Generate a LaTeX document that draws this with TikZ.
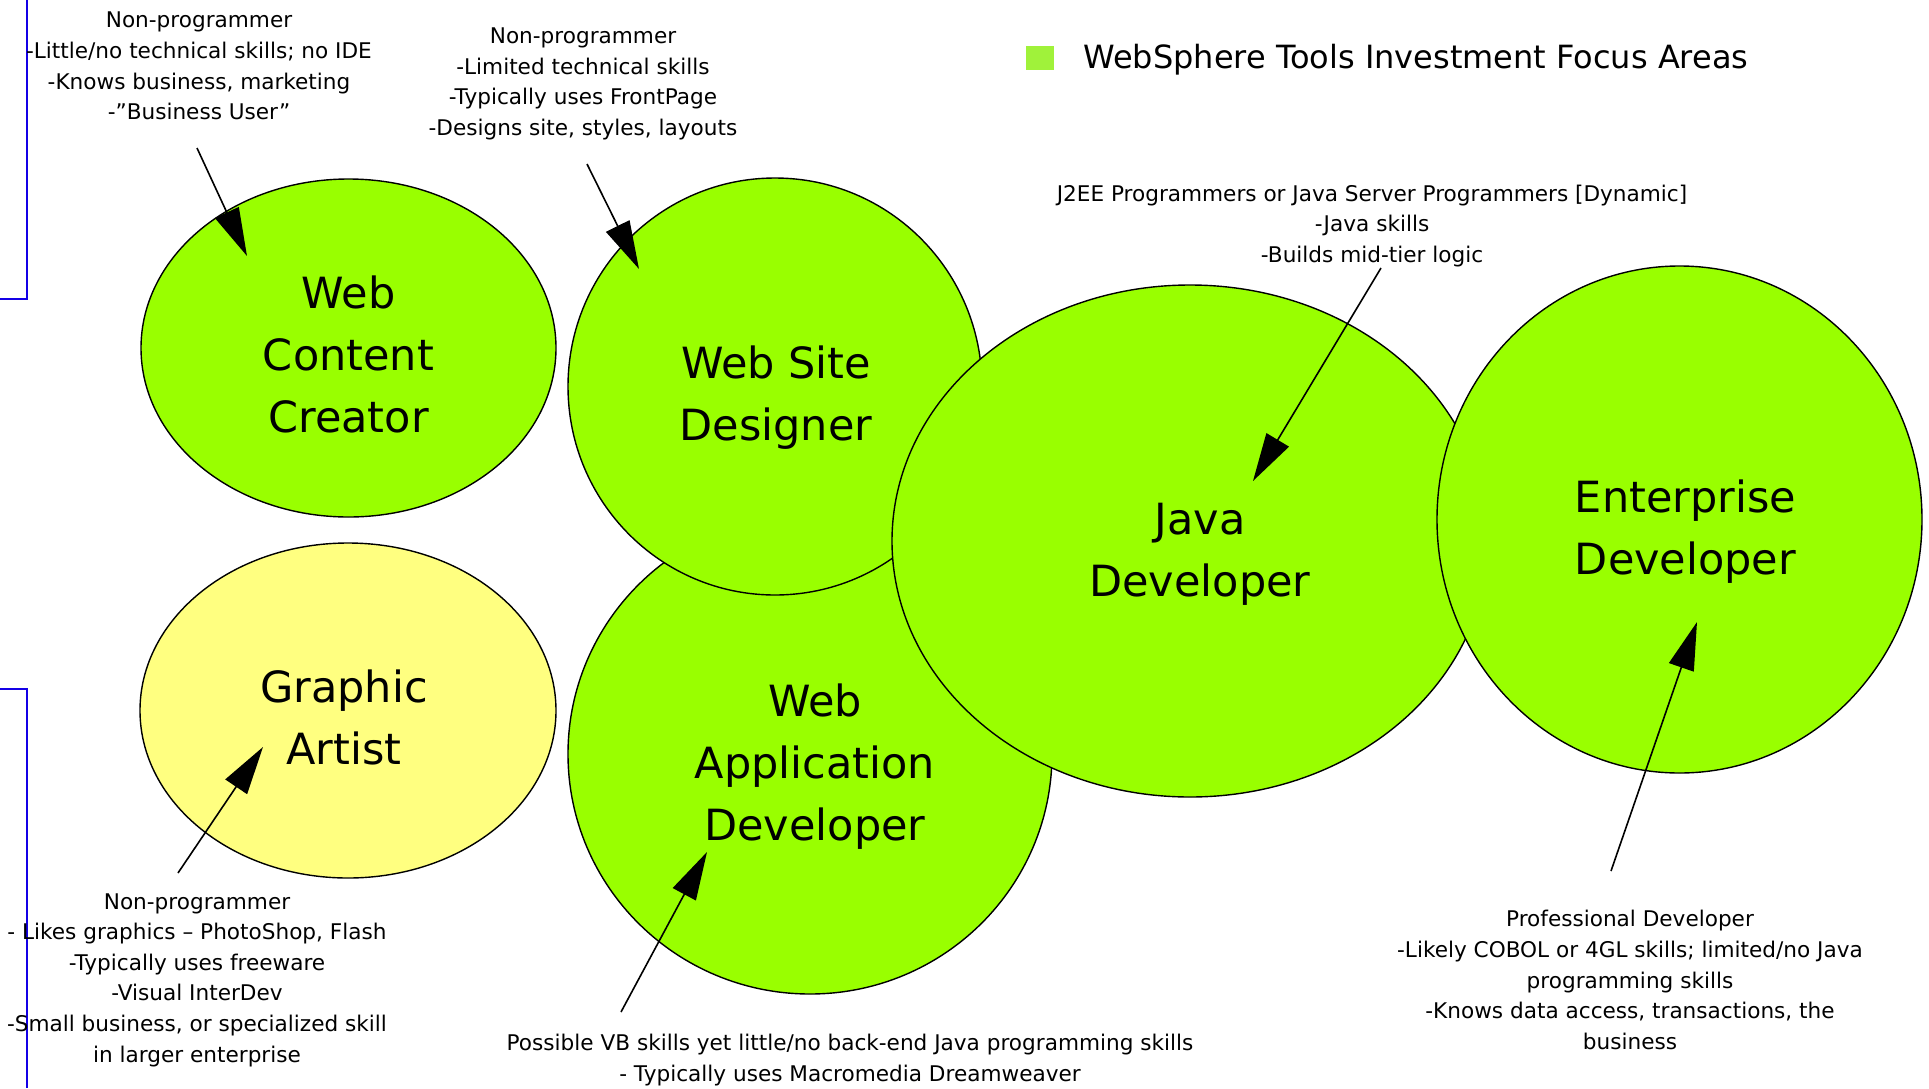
\documentclass[tikz,border=0pt]{standalone}
\usepackage{fontspec}
\setmainfont{DejaVu Sans}
\usetikzlibrary{shapes.geometric,arrows.meta}
\definecolor{bubblegreen}{RGB}{153,255,0}
\definecolor{artistyellow}{RGB}{255,255,128}
\definecolor{legendgreen}{RGB}{160,242,58}
\definecolor{frameblue}{RGB}{20,0,230}
\begin{document}
\begin{tikzpicture}[x=0.5pt,y=-0.5pt,
  bubble/.style={ellipse,draw=black,line width=0.7pt,fill=bubblegreen,inner sep=0pt},
  rolelabel/.style={align=center,inner sep=0pt,font={\fontsize{21.5pt}{31pt}\selectfont}},
  note/.style={align=center,inner sep=0pt,font={\fontsize{10.8pt}{15.3pt}\selectfont}},
  pointer/.style={line width=0.8pt,-{Triangle[length=24pt,width=13pt]}}]
\useasboundingbox (0,0) rectangle (1929,1088);
% side marks
\draw[frameblue,line width=0.85pt] (26.7,0) -- (26.7,299) -- (0,299);
\draw[frameblue,line width=0.85pt] (0,689) -- (26.7,689) -- (26.7,1088);
% legend
\node[fill=legendgreen,inner sep=0pt,minimum width=14pt,minimum height=12pt] (legendbox) at (1040,58) {};
\node[anchor=west,inner sep=0pt,font={\fontsize{16pt}{19pt}\selectfont}] (legendtext) at (1083,60) {WebSphere Tools Investment Focus Areas};
% roles
\node[bubble,minimum width=242pt,minimum height=240pt] (wad) at (810,754) {};
\node[bubble,minimum width=207pt,minimum height=208.5pt] (wsd) at (775,386.5) {};
\node[bubble,minimum width=298pt,minimum height=256pt] (javadev) at (1190,541) {};
\node[bubble,minimum width=242.5pt,minimum height=253.5pt] (entdev) at (1679.5,519.5) {};
\node[bubble,minimum width=207.5pt,minimum height=169pt] (wcc) at (348.5,348) {};
\node[bubble,fill=artistyellow,minimum width=208pt,minimum height=167.5pt] (artist) at (348,710.5) {};
\node[rolelabel] (wadlabel) at ([shift={(5,13)}]wad.center) {Web\\Application\\Developer};
\node[rolelabel] (wsdlabel) at ([shift={(1,11)}]wsd.center) {Web Site\\Designer};
\node[rolelabel] (javalabel) at ([shift={(10,13)}]javadev.center) {Java\\Developer};
\node[rolelabel] (entlabel) at ([shift={(6,12)}]entdev.center) {Enterprise\\Developer};
\node[rolelabel] (wcclabel) at ([shift={(0,6)}]wcc.center) {Web\\Content\\Creator};
\node[rolelabel] (artistlabel) at ([shift={(-4,7)}]artist.center) {Graphic\\Artist};
% notes
\node[note] (wccnote) at (199,66) {Non-programmer\\-Little/no technical skills; no IDE\\-Knows business, marketing\\-”Business User”};
\node[note] (wsdnote) at (583,84) {Non-programmer\\-Limited technical skills\\-Typically uses FrontPage\\-Designs site, styles, layouts};
\node[note] (javanote) at (1372,226) {J2EE Programmers or Java Server Programmers [Dynamic]\\-Java skills\\-Builds mid-tier logic};
\node[note] (artistnote) at (197,980) {Non-programmer\\- Likes graphics – PhotoShop, Flash\\-Typically uses freeware\\-Visual InterDev\\-Small business, or specialized skill\\in larger enterprise};
\node[note] (wadnote) at (850,1060) {Possible VB skills yet little/no back-end Java programming skills\\- Typically uses Macromedia Dreamweaver};
\node[note] (entnote) at (1630,980) {Professional Developer\\-Likely COBOL or 4GL skills; limited/no Java\\programming skills\\-Knows data access, transactions, the\\business};
% pointers
\coordinate (wcctail) at (197,148);   \coordinate (wcctip) at (247,256);
\coordinate (wsdtail) at (587,164);   \coordinate (wsdtip) at (639,269);
\coordinate (javatail) at (1381,268); \coordinate (javatip) at (1253,481);
\coordinate (artisttail) at (178,873); \coordinate (artisttip) at (263,747);
\coordinate (wadtail) at (621,1012);  \coordinate (wadtip) at (707,852);
\coordinate (enttail) at (1611,871);  \coordinate (enttip) at (1697,622);
\draw[pointer] (wcctail) -- (wcctip);
\draw[pointer] (wsdtail) -- (wsdtip);
\draw[pointer] (javatail) -- (javatip);
\draw[pointer] (artisttail) -- (artisttip);
\draw[pointer] (wadtail) -- (wadtip);
\draw[pointer] (enttail) -- (enttip);
\end{tikzpicture}
\end{document}
